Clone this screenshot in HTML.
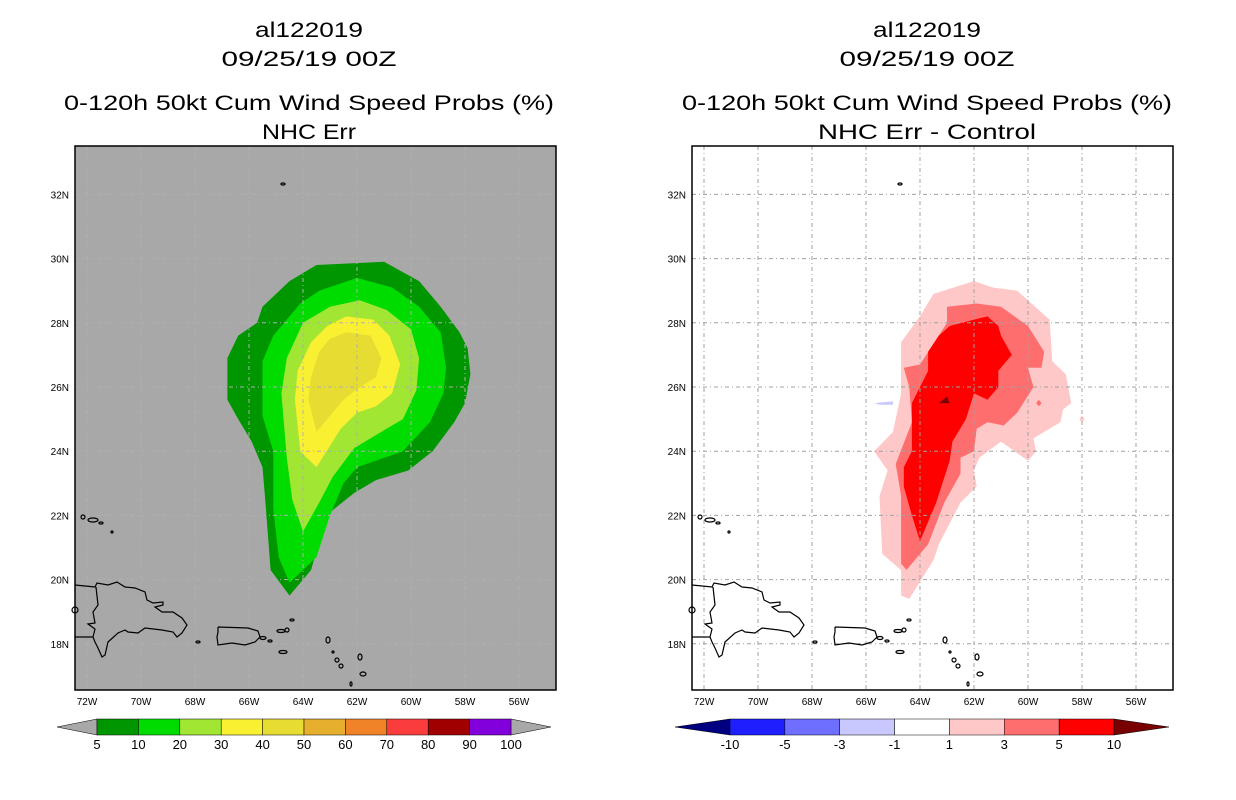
<!DOCTYPE html>
<html><head><meta charset="utf-8"><style>
html,body{margin:0;padding:0;background:#fff;}
svg{display:block;}
text{font-family:"Liberation Sans",sans-serif;fill:#000;}
</style></head><body>
<svg id="svg" width="1236" height="800" viewBox="0 0 1236 800" xmlns="http://www.w3.org/2000/svg">
<g>
<text x="309" y="37" font-size="21" text-anchor="middle" textLength="108" lengthAdjust="spacingAndGlyphs">al122019</text>
<text x="309" y="66" font-size="21" text-anchor="middle" textLength="175" lengthAdjust="spacingAndGlyphs">09/25/19 00Z</text>
<text x="309" y="110" font-size="21" text-anchor="middle" textLength="490" lengthAdjust="spacingAndGlyphs">0-120h 50kt Cum Wind Speed Probs (%)</text>
<text x="309" y="139" font-size="21" text-anchor="middle" textLength="94" lengthAdjust="spacingAndGlyphs">NHC Err</text>
</g>
<g>
<text x="927" y="37" font-size="21" text-anchor="middle" textLength="108" lengthAdjust="spacingAndGlyphs">al122019</text>
<text x="927" y="66" font-size="21" text-anchor="middle" textLength="175" lengthAdjust="spacingAndGlyphs">09/25/19 00Z</text>
<text x="927" y="110" font-size="21" text-anchor="middle" textLength="490" lengthAdjust="spacingAndGlyphs">0-120h 50kt Cum Wind Speed Probs (%)</text>
<text x="927" y="139" font-size="21" text-anchor="middle" textLength="218" lengthAdjust="spacingAndGlyphs">NHC Err - Control</text>
</g>
</svg>
<script>
// ---- data ----
const lonTicks = [-72,-70,-68,-66,-64,-62,-60,-58,-56];
const latTicks = [18,20,22,24,26,28,30,32];
const probLevels = [5,10,20,30,40,50,60,70,80,90,100];
const probColors = ["#009600","#00dc00","#a0e632","#faf032","#e6dc32","#e6af2d","#f08228","#fa3c3c","#a00000","#8200dc"];
const diffLevels = [-10,-5,-3,-1,1,3,5,10];
const diffColors = ["#1e1eff","#6e6eff","#c8c8ff","#ffffff","#ffc8c8","#ff6e6e","#ff0000"];
const prob5 = [[-63.5,29.8],[-61.0,29.9],[-59.7,29.3],[-58.9,28.5],[-58.2,27.7],[-57.9,27.2],[-57.8,26.4],[-58.0,25.5],[-58.4,24.9],[-59.2,24.0],[-60.1,23.4],[-61.3,23.1],[-62.1,22.7],[-63.0,22.1],[-63.4,21.2],[-63.7,20.3],[-64.5,19.5],[-65.2,20.3],[-65.4,22.5],[-65.5,23.5],[-65.9,24.3],[-66.4,25.0],[-66.8,25.6],[-66.8,26.9],[-66.4,27.6],[-65.7,28.0],[-65.5,28.5],[-64.5,29.3]];
const prob10 = [[-62,29.4],[-60.7,29.1],[-59.7,28.5],[-58.9,27.7],[-58.7,26.6],[-58.8,25.8],[-59.3,24.9],[-60.3,24.0],[-62,23.5],[-62.5,23.0],[-63.0,22.0],[-63.5,20.7],[-64.5,19.9],[-64.9,20.7],[-65.1,22.2],[-65.1,24.0],[-65.5,25.1],[-65.5,26.8],[-65.1,27.6],[-64.1,28.6],[-63.4,29.0]];
const prob20 = [[-61.9,28.7],[-60.9,28.4],[-60.0,27.8],[-59.7,26.9],[-59.8,25.9],[-60.3,25.0],[-61.1,24.6],[-62.1,24.1],[-62.9,23.2],[-63.4,22.4],[-64.0,21.5],[-64.4,22.5],[-64.6,23.8],[-64.8,25.8],[-64.6,26.9],[-64.0,28.0],[-63.0,28.5]];
const prob30 = [[-62.4,28.2],[-61.4,28.1],[-60.8,27.6],[-60.4,26.7],[-60.7,25.8],[-61.3,25.4],[-62.0,25.2],[-62.6,24.7],[-63.5,23.5],[-64.1,24.0],[-64.3,25.6],[-64.2,26.5],[-63.7,27.4],[-63.1,27.9]];
const prob40 = [[-62.4,27.7],[-61.5,27.6],[-61.1,26.9],[-61.3,26.3],[-61.9,26.0],[-62.5,25.6],[-63.5,24.6],[-63.8,25.6],[-63.7,26.3],[-63.4,27.1],[-63.0,27.5]];
const diff1 = [[-63.5,28.9],[-62.0,29.3],[-61.3,29.1],[-60.4,29.0],[-59.2,28.1],[-59.1,26.8],[-58.6,26.4],[-58.4,25.5],[-58.7,25.3],[-58.8,24.9],[-59.8,24.4],[-59.7,24.0],[-60.0,23.7],[-61.0,24.3],[-61.8,23.8],[-62.0,23.4],[-61.9,22.9],[-62.5,22.4],[-63.3,21.1],[-63.5,20.6],[-64.4,19.4],[-64.7,19.5],[-64.7,20.3],[-65.4,20.8],[-65.5,22.6],[-65.2,23.4],[-65.7,24.0],[-65.0,24.6],[-64.7,25.8],[-64.7,27.4],[-64.0,28.2]];
const diff3 = [[-63.0,28.5],[-61.9,28.6],[-61.0,28.5],[-60.0,27.9],[-59.4,27.1],[-59.5,26.6],[-60.0,26.6],[-59.8,26.0],[-60.4,25.2],[-60.9,24.8],[-61.5,24.9],[-61.9,24.7],[-62.0,24.0],[-62.5,23.8],[-62.5,23.3],[-63.1,22.4],[-63.7,21.1],[-64.5,20.3],[-64.7,20.5],[-64.7,22.6],[-64.9,23.6],[-64.3,24.9],[-64.4,26.0],[-64.6,26.6],[-64.0,26.7],[-63.0,28.0]];
const diff5 = [[-62.0,28.1],[-61.5,28.2],[-61.1,27.9],[-61.0,27.6],[-60.6,27.0],[-61.1,26.5],[-61.1,26.0],[-61.5,25.6],[-62.0,25.8],[-62.3,25.0],[-62.8,24.3],[-62.9,23.7],[-63.4,22.4],[-64.0,21.2],[-64.3,22.0],[-64.6,22.9],[-64.6,23.5],[-64.3,24.0],[-64.3,25.5],[-64.0,26.0],[-63.7,26.5],[-63.7,27.1],[-63.3,27.6],[-62.9,27.9]];
const diff10 = [[-63.3,25.5],[-63.0,25.7],[-62.9,25.5]];
const diffNeg1 = [[-65.7,25.5],[-65.0,25.55],[-65.0,25.45],[-65.5,25.45]];
const diff3Spot = [[-59.6,25.6],[-59.5,25.5],[-59.6,25.4],[-59.7,25.5]];
const diff1Spot = [[-58.0,25.1],[-57.9,25.0],[-58.0,24.9],[-58.1,25.0]];

// ---- axes ----
const NS="http://www.w3.org/2000/svg";
const svg=document.getElementById('svg');
const W=481, H=544;
function xScale(lon){return 282+(lon+62)*27;}
function yScale(lat){return 241-(lat-26)*32.1;}
function mk(tag,attrs,parent){const e=document.createElementNS(NS,tag);for(const k in attrs)e.setAttribute(k,attrs[k]);(parent||svg).appendChild(e);return e;}
function poly(pts){return pts.map(p=>xScale(p[0]).toFixed(1)+','+yScale(p[1]).toFixed(1)).join(' ');}

const coastHisp="0,439 20,441 22,437 33,439 42,436 50,441 60,442 70,446 72,454 78,457 88,456 88,459 80,461 87,466 98,466 107,472 112,479 107,487 102,491 98,486 87,484 70,482 63,487 53,486 50,484 43,487 33,496 30,509 27,511 23,502 20,496 18,491 0,491";
const coastBorder="21,441 23,459 18,466 20,477 13,478 20,483 18,491";
const coastPR="143,481 173,482 183,485 185,491 180,496 170,499 157,497 143,499 142,491 143,486 143,481";
const islets=[[188,492,3,1.5],[195,495,2,1],[206,485,4,1.5],[212,484,2,2],[217,474,2,1],[208,506,4,1.5],[123,496,2,1],[253,494,2,3],[258,506,1,1],[262,514,2,2],[266,520,2,2],[285,511,2,3],[288,528,3,2],[276,538,1,2],[208,38,2,1],[8,371,2,2],[18,374,5,2],[26,377,2,1],[37,386,1,1],[0,464,3,3]];

function panel(ox,oy,bg,name,isLeft){
  const g=mk('g',{transform:`translate(${ox},${oy})`});
  
  
  mk('rect',{x:0,y:0,width:W,height:H,fill:bg},g);
  const layers=isLeft?[[prob5,0],[prob10,1],[prob20,2],[prob30,3],[prob40,4]]
    :[[diff1,4],[diff3,5],[diff5,6],[diff10,-1],[diffNeg1,2],[diff3Spot,5],[diff1Spot,4]];
  layers.forEach((l,i)=>{
    const fill=isLeft?probColors[l[1]]:(l[1]<0?'#780000':diffColors[l[1]]);
    const p=mk('polygon',{points:poly(l[0]),fill:fill},g);
    
    
  });
  const gc=isLeft?'#b0b0b0':'#a0a0a0';
  lonTicks.forEach(v=>{const x=xScale(v);const l=mk('line',{x1:x,x2:x,y1:0,y2:H,stroke:gc,'stroke-width':1,'stroke-dasharray':'4,3,1,3'},g);
    });
  latTicks.forEach(v=>{const y=yScale(v);const l=mk('line',{x1:0,x2:W,y1:y,y2:y,stroke:gc,'stroke-width':1,'stroke-dasharray':'4,3,1,3'},g);
    });
  const cg=mk('g',{fill:'none',stroke:'#000','stroke-width':1.2},g);
  
  
  mk('polyline',{points:coastHisp},cg);
  mk('polyline',{points:coastBorder},cg);
  mk('polyline',{points:coastPR},cg);
  islets.forEach(s=>mk('ellipse',{cx:s[0],cy:s[1],rx:s[2],ry:s[3]},cg));
  mk('rect',{x:0,y:0,width:W,height:H,fill:'none',stroke:'#000','stroke-width':1.5},g);
  lonTicks.forEach(v=>{const t=mk('text',{x:xScale(v),y:H+15,'font-size':10,'text-anchor':'middle'},g);t.textContent=Math.abs(v)+'W';
    });
  latTicks.forEach(v=>{const t=mk('text',{x:-6,y:yScale(v)+4,'font-size':10,'text-anchor':'end'},g);t.textContent=v+'N';
    });
}
panel(75,146,'#a8a8a8','left-map',true);
panel(692,146,'#ffffff','right-map',false);

// colorbars
function colorbar(x0,x1,tri,levels,colors,leftTri,rightTri,name){
  const g=mk('g',{});
  
  
  const y0=719,y1=735,ym=727,n=colors.length,bw=(x1-x0)/n;
  mk('polygon',{points:`${x0},${y0} ${x0},${y1} ${x0-tri},${ym}`,fill:leftTri,stroke:'#000','stroke-width':0.5},g);
  mk('polygon',{points:`${x1},${y0} ${x1},${y1} ${x1+tri},${ym}`,fill:rightTri,stroke:'#000','stroke-width':0.5},g);
  colors.forEach((c,i)=>{const r=mk('rect',{x:x0+i*bw,y:y0,width:bw,height:y1-y0,fill:c,stroke:'#000','stroke-width':0.5},g);
    });
  levels.forEach((v,i)=>{const t=mk('text',{x:x0+i*bw,y:749,'font-size':13,'text-anchor':'middle'},g);t.textContent=v;
    });
}
colorbar(97,511,40,probLevels,probColors,'#a8a8a8','#a8a8a8','left-colorbar');
colorbar(730,1114,55,diffLevels,diffColors,'#000080','#780000','right-colorbar');
</script>
</body></html>
